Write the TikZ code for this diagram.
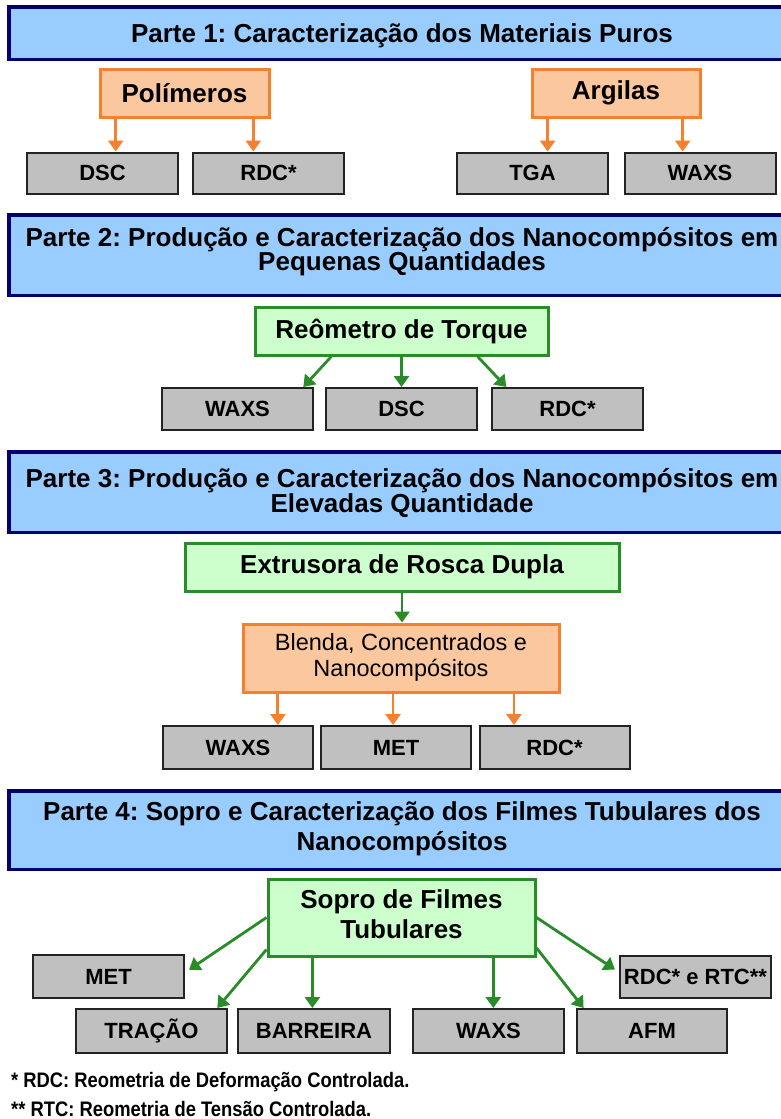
\documentclass[tikz,border=0pt]{standalone}
\usepackage{fontspec}
\setmainfont{Liberation Sans}
\usetikzlibrary{arrows.meta,calc}
\definecolor{hdfill}{RGB}{153,204,255}
\definecolor{hdline}{RGB}{0,0,112}
\definecolor{orfill}{RGB}{251,199,158}
\definecolor{orline}{RGB}{245,128,48}
\definecolor{grfill}{RGB}{204,255,204}
\definecolor{grline}{RGB}{40,140,40}
\definecolor{gyfill}{RGB}{192,192,192}
\definecolor{gyline}{RGB}{35,35,35}
\frenchspacing
\begin{document}
\begin{tikzpicture}[x=1pt,y=-1pt,
  hdbox/.style={fill=hdfill, inner sep=0pt, anchor=north west, minimum width=786pt},
  hdborder/.style={draw=hdline, line width=3.5pt},
  hdtext/.style={anchor=base, inner sep=0pt, font=\fontsize{26}{28}\selectfont\bfseries},
  orbox/.style={draw=orline, fill=orfill, line width=3pt, inner sep=0pt, align=center},
  grbox/.style={draw=grline, fill=grfill, line width=3pt, inner sep=0pt, align=center,
    font=\fontsize{26}{30}\selectfont\bfseries},
  gybox/.style={draw=gyline, fill=gyfill, line width=2pt, inner sep=0pt,
    minimum width=151pt, font=\fontsize{22}{24}\selectfont\bfseries},
  oarr/.style={draw=orline, line width=2.8pt, -{Triangle[length=11pt,width=15pt]}},
  garr/.style={draw=grline, line width=2.8pt, -{Triangle[length=11pt,width=15pt]}},
  foot/.style={anchor=base west, inner sep=0pt, font=\fontsize{21}{23}\selectfont\bfseries}
]
\useasboundingbox[fill=white] (0,0) rectangle (781,1119);

% ---------- Part 1 ----------
\node[hdbox, minimum height=52pt] (h1) at (9,7) {};
\draw[hdborder] (h1.north east) -- (h1.north west) -- (h1.south west) -- (h1.south east);
\node[hdtext] (h1t) at (402,42) {Parte 1: Caracterização dos Materiais Puros};

\node[orbox, minimum width=169pt, minimum height=48pt, font=\fontsize{26}{28}\selectfont\bfseries] (pol) at (184.5,93) {Polímeros};
\node[orbox, minimum width=168pt, minimum height=48pt, font=\fontsize{26}{28}\selectfont\bfseries] (arg) at (616,93) {Argilas};

\node[gybox, minimum height=41pt] (dsc1) at (102.5,173) {DSC};
\node[gybox, minimum height=41pt] (rdc1) at (268.5,173) {RDC*};
\node[gybox, minimum height=41pt] (tga1) at (532.5,173) {TGA};
\node[gybox, minimum height=41pt] (waxs1) at (700,173) {WAXS};

\coordinate (p1a) at ($(pol.south west)!0.1!(pol.south east)$);
\coordinate (p1b) at ($(pol.south west)!0.9!(pol.south east)$);
\coordinate (a1a) at ($(arg.south west)!0.1!(arg.south east)$);
\coordinate (a1b) at ($(arg.south west)!0.89!(arg.south east)$);
\draw[oarr] (p1a) -- (p1a |- dsc1.north);
\draw[oarr] (p1b) -- (p1b |- rdc1.north);
\draw[oarr] (a1a) -- (a1a |- tga1.north);
\draw[oarr] (a1b) -- (a1b |- waxs1.north);

% ---------- Part 2 ----------
\node[hdbox, minimum height=80pt] (h2) at (9,215) {};
\draw[hdborder] (h2.north east) -- (h2.north west) -- (h2.south west) -- (h2.south east);
\node[hdtext] (h2t1) at (402,246) {Parte 2: Produção e Caracterização dos Nanocompósitos em};
\node[hdtext] (h2t2) at (402,270) {Pequenas Quantidades};

\node[grbox, minimum width=293pt, minimum height=48pt] (reo) at (401.5,331) {Reômetro de Torque};
\node[gybox, minimum height=42pt] (waxs2) at (237.5,409) {WAXS};
\node[gybox, minimum height=42pt] (dsc2) at (401.5,409) {DSC};
\node[gybox, minimum height=42pt] (rdc2) at (567.5,409) {RDC*};

\coordinate (r2a) at ($(reo.south west)!0.263!(reo.south east)$);
\coordinate (r2b) at ($(waxs2.north west)!0.93!(waxs2.north east)$);
\coordinate (r2c) at ($(reo.south west)!0.757!(reo.south east)$);
\coordinate (r2d) at ($(rdc2.north west)!0.1!(rdc2.north east)$);
\draw[garr] (r2a) -- (r2b);
\draw[garr] (reo.south) -- (dsc2.north);
\draw[garr] (r2c) -- (r2d);

% ---------- Part 3 ----------
\node[hdbox, minimum height=80pt] (h3) at (9,452) {};
\draw[hdborder] (h3.north east) -- (h3.north west) -- (h3.south west) -- (h3.south east);
\node[hdtext] (h3t1) at (402,487) {Parte 3: Produção e Caracterização dos Nanocompósitos em};
\node[hdtext] (h3t2) at (402,512) {Elevadas Quantidade};

\node[grbox, minimum width=434pt, minimum height=48pt] (ext) at (402,567) {Extrusora de Rosca Dupla};
\node[orbox, minimum width=316pt, minimum height=68pt, font=\fontsize{23.5}{26}\selectfont] (blend) at (401,658)
  {\begin{tabular}{@{}c@{}}Blenda, Concentrados e\\ Nanocompósitos\end{tabular}};
\node[gybox, minimum width=150pt, minimum height=43pt] (waxs3) at (238,747.5) {WAXS};
\node[gybox, minimum width=150pt, minimum height=43pt] (met3) at (396,747.5) {MET};
\node[gybox, minimum width=150pt, minimum height=43pt] (rdc3) at (554.5,747.5) {RDC*};

\draw[garr] (ext.south) -- (ext.south |- blend.north);
\coordinate (b3a) at ($(blend.south west)!0.114!(blend.south east)$);
\coordinate (b3b) at ($(blend.south west)!0.475!(blend.south east)$);
\coordinate (b3c) at ($(blend.south west)!0.854!(blend.south east)$);
\draw[oarr] (b3a) -- (b3a |- waxs3.north);
\draw[oarr] (b3b) -- (b3b |- met3.north);
\draw[oarr] (b3c) -- (b3c |- rdc3.north);

% ---------- Part 4 ----------
\node[hdbox, minimum height=78pt] (h4) at (9,791) {};
\draw[hdborder] (h4.north east) -- (h4.north west) -- (h4.south west) -- (h4.south east);
\node[hdtext] (h4t1) at (402,820) {Parte 4: Sopro e Caracterização dos Filmes Tubulares dos};
\node[hdtext] (h4t2) at (402,850) {Nanocompósitos};

\node[grbox, minimum width=267pt, minimum height=77pt] (sopro) at (401.5,917.5)
  {\begin{tabular}{@{}c@{}}Sopro de Filmes\\ Tubulares\end{tabular}};
\node[gybox, minimum height=43pt] (met4) at (108.5,976.5) {MET};
\node[gybox, minimum height=42pt] (rdc4) at (695.5,977) {RDC* e RTC**};
\node[gybox, minimum height=44pt] (trac) at (151.5,1031) {TRAÇÃO};
\node[gybox, minimum width=152pt, minimum height=44pt] (barr) at (314,1031) {BARREIRA};
\node[gybox, minimum height=44pt] (waxs4) at (488.5,1031) {WAXS};
\node[gybox, minimum width=150pt, minimum height=44pt] (afm) at (652,1031) {AFM};

\coordinate (s4met) at ([xshift=4pt]$(met4.north east)!0.35!(met4.south east)$);
\coordinate (s4trs) at ($(sopro.north west)!0.9!(sopro.south west)$);
\coordinate (s4tre) at ($(trac.north west)!0.93!(trac.north east)$);
\coordinate (s4bar) at ($(sopro.south west)!0.17!(sopro.south east)$);
\coordinate (s4wax) at ($(sopro.south west)!0.84!(sopro.south east)$);
\coordinate (s4afs) at ($(sopro.north east)!0.88!(sopro.south east)$);
\coordinate (s4afe) at ($(afm.north west)!0.05!(afm.north east)$);
\coordinate (s4rdc) at ([xshift=-4pt]$(rdc4.north west)!0.33!(rdc4.south west)$);
\draw[garr] (sopro.west) -- (s4met);
\draw[garr] (s4trs) -- (s4tre);
\draw[garr] (s4bar) -- (s4bar |- barr.north);
\draw[garr] (s4wax) -- (s4wax |- waxs4.north);
\draw[garr] (s4afs) -- (s4afe);
\draw[garr] (sopro.east) -- (s4rdc);

% ---------- Footnotes ----------
\node[foot] (fn1) at (11,1087) {\scalebox{0.875}[1]{* RDC: Reometria de Deformação Controlada.}};
\node[foot] (fn2) at (11,1116) {\scalebox{0.875}[1]{** RTC: Reometria de Tensão Controlada.}};
\end{tikzpicture}
\end{document}
